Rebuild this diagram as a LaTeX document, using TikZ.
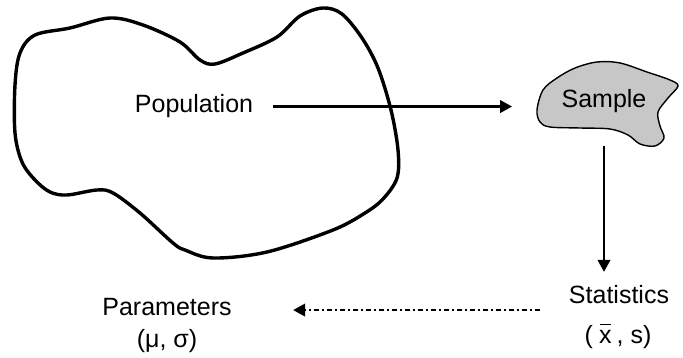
\documentclass[tikz,border=0pt]{standalone}
\usepackage{fontspec}
\setmainfont{Liberation Sans}
\usetikzlibrary{arrows.meta, positioning}
\newcommand{\samplemean}{\rlap{\hspace{0.05em}\raisebox{0.72em}{\rule{0.42em}{1.4pt}}}x}

\begin{document}
\begin{tikzpicture}[
  x=1pt, y=-1pt,
  lbl/.style={font=\fontsize{25}{30}\selectfont, inner sep=3.33pt, anchor=base},
  arr/.style={-{Triangle[length=12pt, width=12.5pt]}, line width=2.3pt},
  dotarr/.style={arr, dash pattern=on 5pt off 3pt on 2pt off 3pt}
]
\useasboundingbox (0,0) rectangle (683,358);

\draw[line width=3.4pt] plot[smooth cycle, tension=0.55] coordinates {
  (15,85) (20,53) (35,35) (70,28) (110,18) (143,25) (180,42) (200,60) (215,64)
  (243,53) (277,37) (300,16) (323,8) (342,14) (362,38) (378,68) (391,110)
  (398,150) (397,178) (383,199) (365,213) (333,230) (267,252) (213,258)
  (185,250) (173,243) (140,213) (113,193) (97,190) (67,195) (50,192) (35,180)
  (22,162) (15,133)};
\draw[line width=1.4pt, fill=black!22] plot[smooth cycle, tension=0.55] coordinates {
  (537,110) (543,90) (557,78) (575,68) (597,62) (620,63) (647,72) (670,80)
  (678,86) (668,98) (658,112) (660,126) (664,138) (655,146) (640,144)
  (628,135) (610,129) (580,128) (550,127) (540,122)};

\node[lbl] (pop) at (194,113) {Population};
\node[lbl] (sample) at (604,108) {Sample};
\node[lbl] (stats) at (619,303) {Statistics};
\node[lbl] (statsym) at (618,343) {(\hspace{0.25em}\samplemean\hspace{0.2em}, s)};
\node[lbl] (params) at (167,315) {Parameters};
\node[lbl] (paramsym) at (167,347) {(μ, σ)};

\draw[arr, shorten <=16.5pt, shorten >=46pt] (pop.east) -- (pop.east -| sample.west);
\draw[arr, shorten <=29pt, shorten >=9.5pt] (sample.south) -- (sample.south |- stats.north);
\draw[dotarr, shorten <=25pt, shorten >=58pt] ([yshift=-16pt]stats.west) -- ([yshift=-16pt]stats.west -| params.east);
\end{tikzpicture}
\end{document}
